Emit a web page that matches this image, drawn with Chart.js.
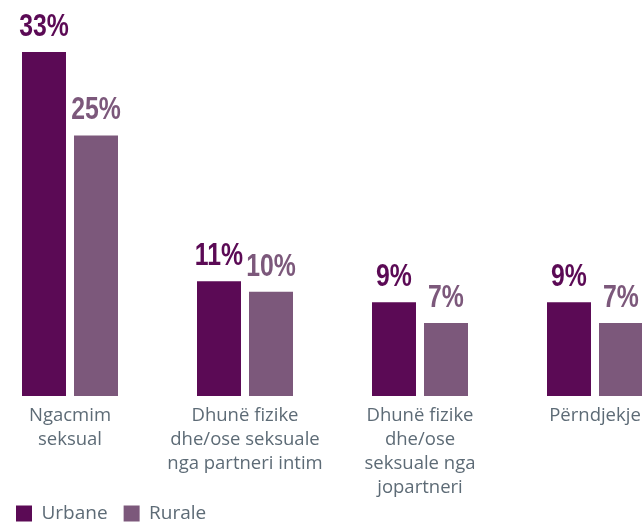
<!DOCTYPE html>
<html>
<head>
<meta charset="utf-8">
<script src="https://cdn.jsdelivr.net/npm/chart.js@4"></script>
<style>
  html, body { margin: 0; padding: 0; background: #ffffff; overflow: hidden; }
  #wrap { position: absolute; left: 0; top: 0; width: 642px; height: 524px; }
</style>
</head>
<body>
<div id="wrap"><canvas id="c" width="642" height="524"></canvas></div>
<script>
const categories = [
  ["Ngacmim", "seksual"],
  ["Dhunë fizike", "dhe/ose seksuale", "nga partneri intim"],
  ["Dhunë fizike", "dhe/ose", "seksuale nga", "jopartneri"],
  ["Përndjekje"]
];
const seriesNames = ["Urbane", "Rurale"];
const urbane = [33, 11, 9, 9];
const rurale = [25, 10, 7, 7];
const colors = ["#5b0a55", "#7c587b"];

// let multi-line category labels run below the (short) axis box without clipping
Chart.CategoryScale.prototype._computeLabelArea = function () { return undefined; };

const valueLabels = {
  id: 'valueLabels',
  afterDatasetsDraw(chart) {
    const ctx = chart.ctx;
    chart.data.datasets.forEach((ds, i) => {
      const meta = chart.getDatasetMeta(i);
      meta.data.forEach((bar, j) => {
        ctx.save();
        ctx.font = "bold 31px 'Liberation Sans', Arial, sans-serif";
        ctx.textAlign = 'center';
        ctx.textBaseline = 'alphabetic';
        ctx.fillStyle = ds.backgroundColor;
        ctx.translate(bar.x, bar.y - 16);
        ctx.scale(0.8, 1);
        ctx.fillText(ds.data[j] + '%', 0, 0);
        ctx.restore();
      });
    });
  }
};

new Chart(document.getElementById('c'), {
  type: 'bar',
  data: {
    labels: categories,
    datasets: [
      { label: seriesNames[0], data: urbane, backgroundColor: colors[0], clip: false,
        categoryPercentage: 0.5943, barPercentage: 0.846 },
      { label: seriesNames[1], data: rurale, backgroundColor: colors[1], clip: false,
        categoryPercentage: 0.5943, barPercentage: 0.846 }
    ]
  },
  options: {
    responsive: false,
    animation: false,
    layout: { padding: { left: 0, right: 47, top: 0, bottom: -9 } },
    plugins: {
      legend: {
        position: 'bottom',
        align: 'start',
        labels: {
          boxWidth: 16, boxHeight: 16,
          color: '#5d6b76',
          font: { family: "'Open Sans', 'Noto Sans', sans-serif", size: 19 },
          padding: 16
        }
      },
      tooltip: { enabled: false }
    },
    scales: {
      x: {
        offset: false,
        grid: { display: false, drawTicks: false },
        border: { display: false },
        ticks: {
          autoSkip: false, maxRotation: 0, minRotation: 0,
          color: '#5d6b76',
          padding: 8,
          font: { family: "'Open Sans', 'Noto Sans', sans-serif", size: 18.5, lineHeight: '24px' }
        },
        afterFit: (s) => { s.height = 92; s.paddingLeft = 0; s.paddingRight = 0; }
      },
      y: {
        min: 0, max: 38,
        grid: { display: false },
        border: { display: false },
        ticks: { display: false },
        afterFit: (s) => { s.width = 70; }
      }
    }
  },
  plugins: [valueLabels]
});
</script>
</body>
</html>
